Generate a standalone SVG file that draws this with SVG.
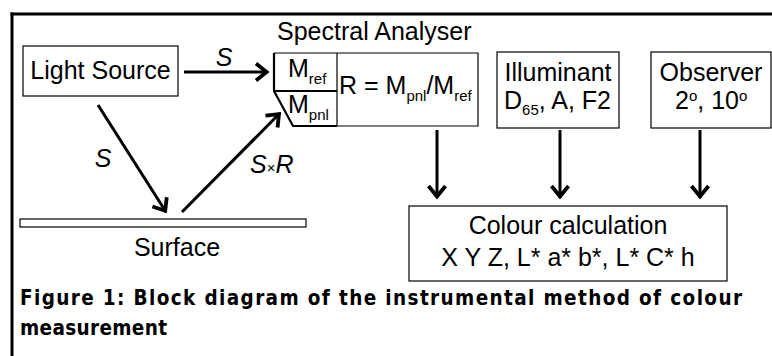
<svg xmlns="http://www.w3.org/2000/svg" width="772" height="356" viewBox="0 0 772 356">
  <style>
    .t { font-family: "Liberation Sans", Arial, sans-serif; font-size: 25px; fill: #000; }
    .sub { font-size: 15px; }
    .it { font-style: italic; }
    .box { fill: #fff; stroke: #000; stroke-width: 1.2; }
    .thin { fill: none; stroke: #000; stroke-width: 1.2; }
    .thick { fill: none; stroke: #000; stroke-width: 2.2; }
    .conn { stroke: #000; stroke-width: 3; fill: none; marker-end: url(#ah); }
    .cap { font-family: "DejaVu Sans Condensed", "DejaVu Sans", Verdana, sans-serif; font-stretch: condensed; font-weight: bold; font-size: 20.5px; fill: #000; }
  </style>
  <defs>
    <marker id="ah" markerUnits="userSpaceOnUse" viewBox="-14 -10 16 20" refX="0" refY="0" markerWidth="16" markerHeight="20" orient="auto" overflow="visible">
      <path d="M-12,-8.5 L-1.5,0 L-12,8.5" fill="none" stroke="#000" stroke-width="3.8" stroke-linejoin="miter" stroke-miterlimit="8"/>
    </marker>
  </defs>
  <rect width="772" height="356" fill="#fff"/>

  <g id="frame">
    <line x1="12" y1="12.5" x2="12" y2="356" stroke="#000" stroke-width="3"/>
    <line x1="10.5" y1="14" x2="772" y2="14" stroke="#000" stroke-width="3"/>
  </g>

  <g id="light-source">
    <rect class="box" x="23" y="46" width="155" height="50"/>
    <text class="t" x="100.5" y="79" text-anchor="middle">Light Source</text>
  </g>

  <g id="spectral-analyser">
    <text class="t" x="277" y="40">Spectral Analyser</text>
    <path class="thin" d="M337,53 L478,53 L478,126 L337,126"/>
    <path class="thin" d="M274,53 L337,53"/>
    <line class="thin" x1="337" y1="53" x2="337" y2="126"/>
    <path class="thick" d="M274,53 L274,91 L293,126 L337,126"/>
    <line class="thick" x1="274" y1="91" x2="337" y2="91"/>
    <text class="t" x="288" y="77">M<tspan class="sub" dy="7">ref</tspan></text>
    <text class="t" x="288" y="113">M<tspan class="sub" dy="7">pnl</tspan></text>
    <text class="t" x="339" y="94">R = M<tspan class="sub" dy="7">pnl</tspan><tspan dy="-7">/M</tspan><tspan class="sub" dy="7">ref</tspan></text>
  </g>

  <g id="illuminant">
    <rect class="box" x="497" y="52" width="122" height="76"/>
    <text class="t" x="558" y="81" text-anchor="middle">Illuminant</text>
    <text class="t" x="504" y="109">D<tspan class="sub" dy="6">65</tspan><tspan dy="-6">, A, F2</tspan></text>
  </g>

  <g id="observer">
    <rect class="box" x="651" y="52" width="120" height="76"/>
    <text class="t" x="711" y="81" text-anchor="middle">Observer</text>
    <text class="t" x="675" y="109">2<tspan class="sub" dy="-8">o</tspan><tspan dy="8">, 10</tspan><tspan class="sub" dy="-8">o</tspan></text>
  </g>

  <g id="surface">
    <rect class="box" x="20" y="219" width="286" height="8"/>
    <text class="t" x="177" y="256" text-anchor="middle">Surface</text>
  </g>

  <g id="colour-calculation">
    <rect class="box" x="409" y="206" width="318" height="75"/>
    <text class="t" x="568" y="234" text-anchor="middle">Colour calculation</text>
    <text class="t" x="568" y="266" text-anchor="middle">X Y Z, L* a* b*, L* C* h</text>
  </g>

  <g id="connectors">
    <line class="conn" x1="184" y1="72" x2="268" y2="72"/>
    <text class="t it" x="224" y="66" text-anchor="middle">S</text>
    <line class="conn" x1="98" y1="105" x2="166" y2="212"/>
    <text class="t it" x="103" y="167" text-anchor="middle">S</text>
    <line class="conn" x1="182" y1="212" x2="280" y2="113"/>
    <text class="t" x="250" y="173"><tspan class="it">S</tspan><tspan class="sub">×</tspan><tspan class="it">R</tspan></text>
    <line class="conn" x1="437" y1="130" x2="437" y2="198"/>
    <line class="conn" x1="560" y1="130" x2="560" y2="198"/>
    <line class="conn" x1="700" y1="130" x2="700" y2="198"/>
  </g>

  <g id="caption">
    <text class="cap" x="20" y="305" textLength="722" lengthAdjust="spacing">Figure 1: Block diagram of the instrumental method of colour</text>
    <text class="cap" x="20" y="335" textLength="147" lengthAdjust="spacing">measurement</text>
  </g>
</svg>
